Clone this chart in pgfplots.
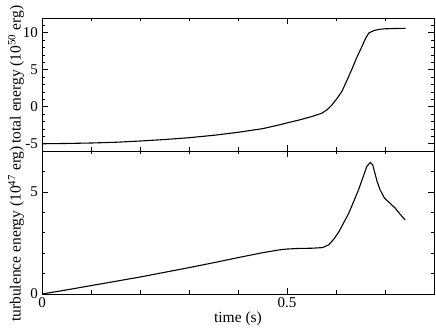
\documentclass[border=0pt]{standalone}
\usepackage{fontspec}
\setmainfont{Liberation Serif}
\usepackage{pgfplots}
\pgfplotsset{compat=1.18}
\usetikzlibrary{calc}
\begin{document}
\begin{tikzpicture}
\pgfplotsset{every axis/.append style={
  scale only axis, width=392bp,
  xmin=0, xmax=0.8, xtick={0,0.5}, minor xtick={0.1,0.2,0.3,0.4,0.6,0.7},
  tick align=inside, major tick length=6bp, minor tick length=3.5bp,
  font=\fontsize{15.5bp}{18bp}\selectfont,
  tick label style={font=\fontsize{15bp}{17bp}\selectfont},
  /pgf/number format/assume math mode=true,
  axis line style={line width=0.8pt},
  every tick/.style={black, line width=0.6pt},
  yticklabel style={xshift=-0.5bp},
  xticklabel style={yshift=-0.5bp},
}}
\begin{axis}[name=top, at={(0,0)}, anchor=south west,
  height=133bp, ymin=-6, ymax=12, ytick={-5,0,5,10},
  minor ytick={-6,-4,-3,-2,-1,1,2,3,4,6,7,8,9,11,12},
  xticklabels={},
  ylabel={total energy (10\textsuperscript{50} erg)},
  every axis y label/.style={at={(axis description cs:-0.066,0.575)}, rotate=90, anchor=center}]
\addplot[black, line width=1.1pt] coordinates {
(0,-5.02) (0.05,-4.98) (0.1,-4.92) (0.15,-4.82) (0.2,-4.65) (0.25,-4.45)
(0.3,-4.2) (0.35,-3.88) (0.4,-3.47) (0.45,-2.98) (0.484,-2.47) (0.5,-2.2)
(0.525,-1.8) (0.55,-1.35) (0.571,-0.89) (0.582,-0.4) (0.592,0.26) (0.602,1.1)
(0.612,2.07) (0.622,3.5) (0.632,5.0) (0.642,6.6) (0.653,8.15) (0.66,9.2)
(0.667,9.96) (0.674,10.2) (0.68,10.35) (0.69,10.48) (0.701,10.54) (0.72,10.58)
(0.742,10.6)};
\end{axis}
\begin{axis}[name=bot, at={(top.south west)}, anchor=north west,
  height=143bp, ymin=0, ymax=7, ytick={0,5},
  minor ytick={1,2,3,4,6},
  xlabel={time (s)},
  ylabel={turbulence energy (10\textsuperscript{47} erg)},
  every axis y label/.style={at={(axis description cs:-0.066,0.42)}, rotate=90, anchor=center},
  every axis x label/.style={at={(axis description cs:0.5,-0.17)}, anchor=center}]
\addplot[black, line width=1.1pt] coordinates {
(0,0) (0.05,0.2) (0.1,0.41) (0.15,0.62) (0.2,0.83) (0.25,1.06) (0.3,1.29)
(0.35,1.53) (0.4,1.78) (0.45,2.02) (0.484,2.16) (0.5,2.2) (0.523,2.23)
(0.55,2.24) (0.572,2.27) (0.585,2.4) (0.596,2.7) (0.606,3.05) (0.626,3.95)
(0.646,5.1) (0.663,6.25) (0.67,6.44) (0.675,6.32) (0.679,5.95) (0.684,5.5)
(0.69,5.1) (0.699,4.69) (0.71,4.45) (0.721,4.2) (0.731,3.9) (0.741,3.63)};
\end{axis}
\path ($(top.north west)+(-42bp,18bp)$) rectangle ($(bot.south east)+(2bp,-33bp)$);
\end{tikzpicture}
\end{document}
